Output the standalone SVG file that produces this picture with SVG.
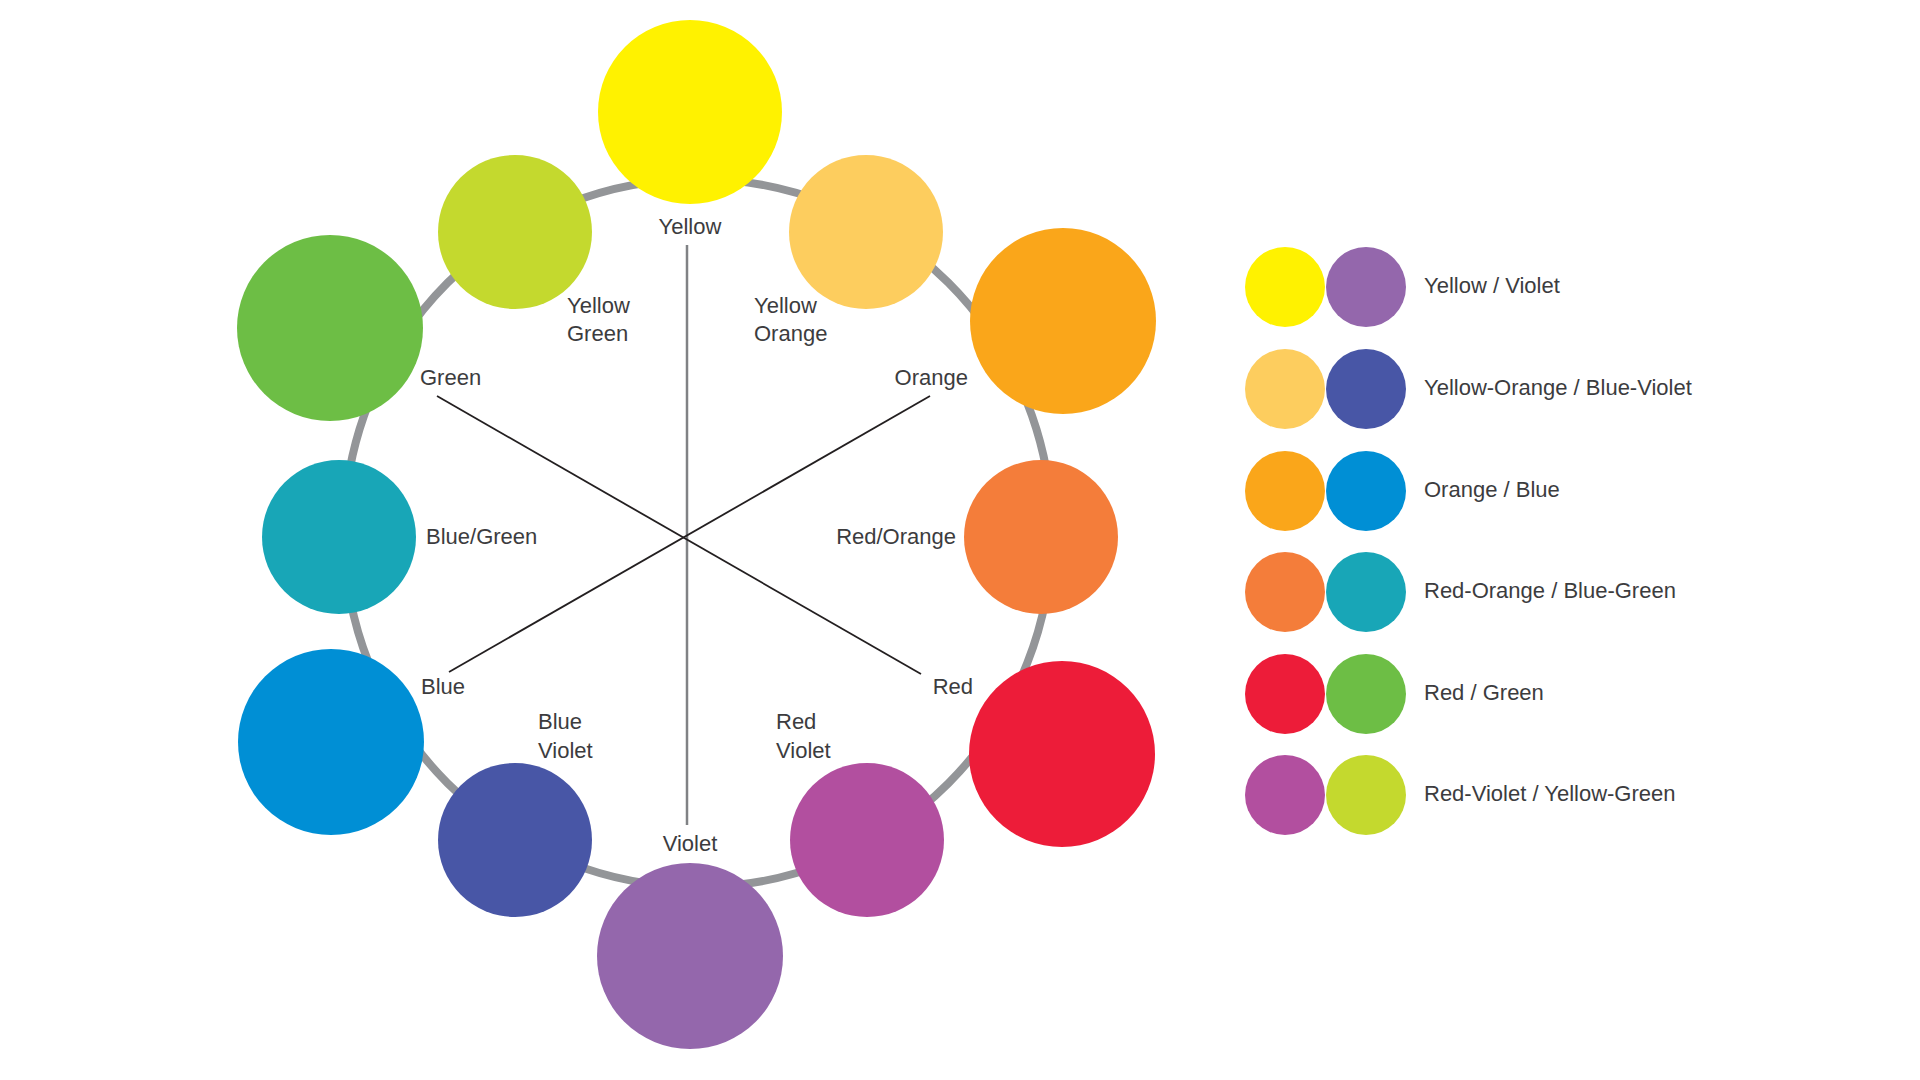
<svg xmlns="http://www.w3.org/2000/svg" width="1920" height="1080" viewBox="0 0 1920 1080">
<style>
  .lbl { font-family: "Liberation Sans", Arial, sans-serif; font-size: 22px; fill: #3c3c3e; }
  .leg { font-family: "Liberation Sans", Arial, sans-serif; font-size: 22px; fill: #3c3c3e; }
  .spoke { stroke: #231f20; stroke-width: 1.8; fill: none; }
  .vspoke { stroke: #808285; stroke-width: 2.5; fill: none; }
  .ring { stroke: #939598; stroke-width: 8; fill: none; }
</style>
<rect width="1920" height="1080" fill="#ffffff"/>
<circle class="ring" cx="698" cy="533" r="354"/>
<g id="connectors">
  <line class="vspoke" x1="687" y1="245" x2="687" y2="825"/>
  <line class="spoke" x1="437" y1="396" x2="921" y2="674"/>
  <line class="spoke" x1="930" y1="396" x2="449" y2="672"/>
</g>
<g id="yellow"><circle cx="690" cy="112" r="92" fill="#FFF200"/><text class="lbl" x="690" y="234" text-anchor="middle">Yellow</text></g>
<g id="yellow-orange"><circle cx="866" cy="232" r="77" fill="#FDCD5E"/><text class="lbl" x="754" y="313">Yellow</text><text class="lbl" x="754" y="341">Orange</text></g>
<g id="orange"><circle cx="1063" cy="321" r="93" fill="#FAA61A"/><text class="lbl" x="968" y="385" text-anchor="end">Orange</text></g>
<g id="red-orange"><circle cx="1041" cy="537" r="77" fill="#F47D3A"/><text class="lbl" x="956" y="544" text-anchor="end">Red/Orange</text></g>
<g id="red"><circle cx="1062" cy="754" r="93" fill="#ED1C39"/><text class="lbl" x="973" y="694" text-anchor="end">Red</text></g>
<g id="red-violet"><circle cx="867" cy="840" r="77" fill="#B24F9F"/><text class="lbl" x="776" y="729">Red</text><text class="lbl" x="776" y="758">Violet</text></g>
<g id="violet"><circle cx="690" cy="956" r="93" fill="#9467AC"/><text class="lbl" x="690" y="851" text-anchor="middle">Violet</text></g>
<g id="blue-violet"><circle cx="515" cy="840" r="77" fill="#4856A6"/><text class="lbl" x="538" y="729">Blue</text><text class="lbl" x="538" y="758">Violet</text></g>
<g id="blue"><circle cx="331" cy="742" r="93" fill="#008FD5"/><text class="lbl" x="421" y="694">Blue</text></g>
<g id="blue-green"><circle cx="339" cy="537" r="77" fill="#18A6B7"/><text class="lbl" x="426" y="544">Blue/Green</text></g>
<g id="green"><circle cx="330" cy="328" r="93" fill="#6DBE45"/><text class="lbl" x="420" y="385">Green</text></g>
<g id="yellow-green"><circle cx="515" cy="232" r="77" fill="#C4D92E"/><text class="lbl" x="567" y="313">Yellow</text><text class="lbl" x="567" y="341">Green</text></g>
<g id="legend">
  <g id="pair-yellow-violet"><circle cx="1285" cy="287" r="40" fill="#FFF200"/><circle cx="1366" cy="287" r="40" fill="#9467AC"/><text class="leg" x="1424" y="293">Yellow / Violet</text></g>
  <g id="pair-yo-bv"><circle cx="1285" cy="389" r="40" fill="#FDCD5E"/><circle cx="1366" cy="389" r="40" fill="#4856A6"/><text class="leg" x="1424" y="395">Yellow-Orange / Blue-Violet</text></g>
  <g id="pair-orange-blue"><circle cx="1285" cy="491" r="40" fill="#FAA61A"/><circle cx="1366" cy="491" r="40" fill="#008FD5"/><text class="leg" x="1424" y="497">Orange / Blue</text></g>
  <g id="pair-ro-bg"><circle cx="1285" cy="592" r="40" fill="#F47D3A"/><circle cx="1366" cy="592" r="40" fill="#18A6B7"/><text class="leg" x="1424" y="598">Red-Orange / Blue-Green</text></g>
  <g id="pair-red-green"><circle cx="1285" cy="694" r="40" fill="#ED1C39"/><circle cx="1366" cy="694" r="40" fill="#6DBE45"/><text class="leg" x="1424" y="700">Red / Green</text></g>
  <g id="pair-rv-yg"><circle cx="1285" cy="795" r="40" fill="#B24F9F"/><circle cx="1366" cy="795" r="40" fill="#C4D92E"/><text class="leg" x="1424" y="801">Red-Violet / Yellow-Green</text></g>
</g>
</svg>
